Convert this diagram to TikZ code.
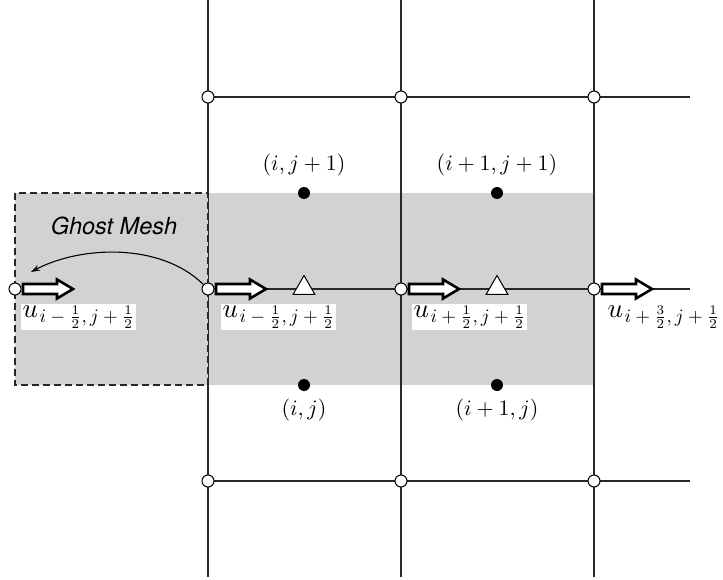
\documentclass[tikz,border=0pt]{standalone}
\usepackage{graphicx}
\usepackage{fontspec}
\newfontfamily\heros{TeX Gyre Heros}
\usetikzlibrary{arrows.meta,shapes.geometric}
\definecolor{shadegray}{RGB}{209,210,212}
\definecolor{gline}{RGB}{40,40,40}
\newcommand{\ulab}[1]{\scalebox{2.7}{$u$}\kern1.5pt\raisebox{-5pt}{\scalebox{1.9}{$#1$}}}
\newcommand{\idxlab}[1]{\scalebox{2.2}{$#1$}}
\tikzset{
  harrow/.pic={\draw[line width=2.6pt, fill=white, line join=miter, miter limit=10]
     (8,-5) -- (42,-5) -- (42,-9.5) -- (58,0) -- (42,9.5) -- (42,5) -- (8,5) -- cycle;}
}
\begin{document}
\begin{tikzpicture}[x=1pt,y=-1pt,
  gridline/.style={line width=1.3pt, draw=gline},
  vtx/.style={circle, draw=black, fill=white, line width=1pt, minimum size=12pt, inner sep=0pt},
  cdot/.style={circle, fill=black, minimum size=12pt, inner sep=0pt},
  tri/.style={regular polygon, regular polygon sides=3, draw=black, fill=white, line width=1pt, minimum size=25pt, inner sep=0pt},
  ulabel/.style={fill=white, inner sep=1.5pt, anchor=north west},
  idx/.style={inner sep=0pt},
  ghostbox/.style={fill=shadegray, draw=gline, line width=1.3pt, dash pattern=on 7pt off 4pt}
]
\useasboundingbox (0,0) rectangle (723,580);
% shaded control volume
\fill[shadegray] (208,193) rectangle (594,385);
% grid
\foreach \x in {208,401,594} \draw[gridline] (\x,0) -- (\x,577);
\foreach \y in {97,289,481} \draw[gridline] (208,\y) -- (690,\y);
% ghost mesh
\path[ghostbox] (15,193) rectangle (208,385);
% vertices
\node[vtx] (c11) at (208,97) {};
\node[vtx] (c12) at (401,97) {};
\node[vtx] (c13) at (594,97) {};
\node[vtx] (c21) at (208,289) {};
\node[vtx] (c22) at (401,289) {};
\node[vtx] (c23) at (594,289) {};
\node[vtx] (c31) at (208,481) {};
\node[vtx] (c32) at (401,481) {};
\node[vtx] (c33) at (594,481) {};
\node[vtx] (g) at (15,289) {};
% cell centres
\node[cdot] (p1) at (304,193) {};
\node[cdot] (p2) at (497,193) {};
\node[cdot] (p3) at (304,385) {};
\node[cdot] (p4) at (497,385) {};
% triangles
\node[tri] (t1) at (304,288) {};
\node[tri] (t2) at (497,288) {};
% copy arrow
\coordinate (gtip) at (31,272);
\draw[line width=1.1pt, draw=black, -{Stealth[length=9pt,width=6pt]}] (c21) .. controls (160,242) and (80,246) .. (gtip);
% hollow arrows
\pic at (g) {harrow};
\pic at (c21) {harrow};
\pic at (c22) {harrow};
\pic at (c23) {harrow};
% labels
\node[ulabel] (lg) at (21,304) {\ulab{i-\frac12,j+\frac12}};
\node[ulabel] (l1) at (221,304) {\ulab{i-\frac12,j+\frac12}};
\node[ulabel] (l2) at (412,304) {\ulab{i+\frac12,j+\frac12}};
\node[ulabel] (l3) at (606,304) {\ulab{i+\frac32,j+\frac12}};
\node[idx] (n1) at (304,165) {\idxlab{(i,j+1)}};
\node[idx] (n2) at (497,165) {\idxlab{(i+1,j+1)}};
\node[idx] (n3) at (304,410) {\idxlab{(i,j)}};
\node[idx] (n4) at (497,410) {\idxlab{(i+1,j)}};
\node[font=\heros\itshape\fontsize{23.5}{25}\selectfont] (gm) at (114,226) {Ghost Mesh};
\end{tikzpicture}
\end{document}
